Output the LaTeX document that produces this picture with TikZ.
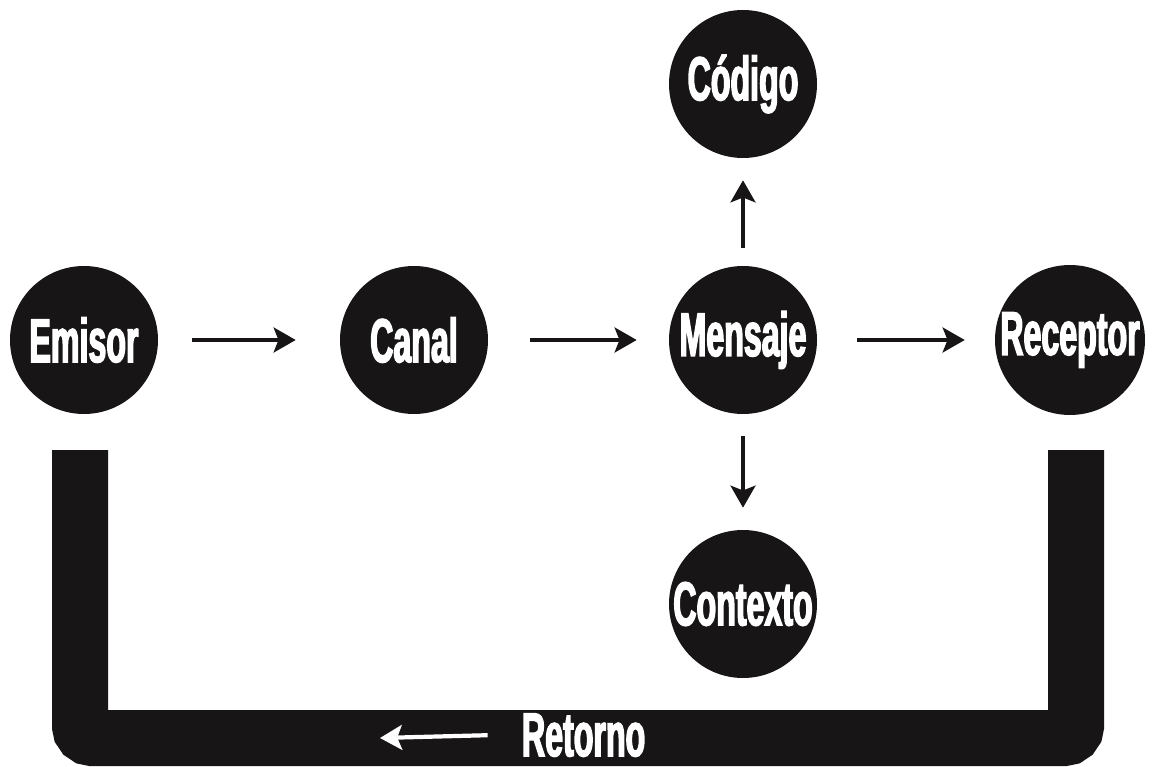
\documentclass[tikz,border=0pt]{standalone}
\usepackage{fontspec}
\usepackage{tikz}
\usetikzlibrary{arrows.meta}
\newfontfamily\posterfont[FakeStretch=0.52,FakeBold=2.2]{Liberation Sans}
\definecolor{ink}{HTML}{171515}

\begin{document}
	\begin{tikzpicture}[
			bubble/.style={circle, fill=ink, text=white, minimum size=3.7cm, inner sep=0pt,
				font=\posterfont\bfseries\fontsize{44}{46}\selectfont},
			flow/.style={draw=ink, line width=3pt, -{Stealth[length=0.55cm, width=0.62cm, inset=0.12cm]}},
			feedback/.style={draw=ink, line width=1.4cm, rounded corners=0.3cm, line cap=butt}
		]
		\useasboundingbox (0,0) rectangle (28.8,-19.175);
		
		\node[bubble] (emisor) at (2.1,-8.5) {Emisor};
		\node[bubble] (canal) at (10.35,-8.5) {Canal};
		\node[bubble] (mensaje) at (18.575,-8.5) {Mensaje};
		\node[bubble] (receptor) at (26.75,-8.5) {Receptor};
		\node[bubble] (codigo) at (18.575,-2.1) {Código};
		\node[bubble] (contexto) at (18.575,-15.1) {Contexto};
		
		\draw[flow, shorten <=0.85cm, shorten >=1.1cm] (emisor) -- (canal);
		\draw[flow, shorten <=1.05cm, shorten >=0.8cm] (canal) -- (mensaje);
		\draw[flow, shorten <=1.0cm, shorten >=0.75cm] (mensaje) -- (receptor);
		\draw[flow, shorten <=0.45cm, shorten >=0.55cm] (mensaje) -- (codigo);
		\draw[flow, shorten <=0.55cm, shorten >=0.55cm] (mensaje) -- (contexto);
		
		% retorno
		\coordinate (retorno-start) at (2.0,-11.25);
		\coordinate (retorno-stop) at (26.9,-11.25);
		\draw[feedback] (retorno-start) |- (14.0,-18.45) -| (retorno-stop);
		\node[text=white, inner sep=0pt, font=\posterfont\bfseries\fontsize{44}{46}\selectfont]
			(retorno) at (14.59,-18.38) {Retorno};
		\coordinate (retorno-end) at (9.5,-18.45);
		\draw[draw=white, line width=3pt, -{Stealth[length=0.55cm, width=0.62cm, inset=0.12cm]}]
			([xshift=-0.85cm]retorno.west) -- (retorno-end);
	\end{tikzpicture}
\end{document}
